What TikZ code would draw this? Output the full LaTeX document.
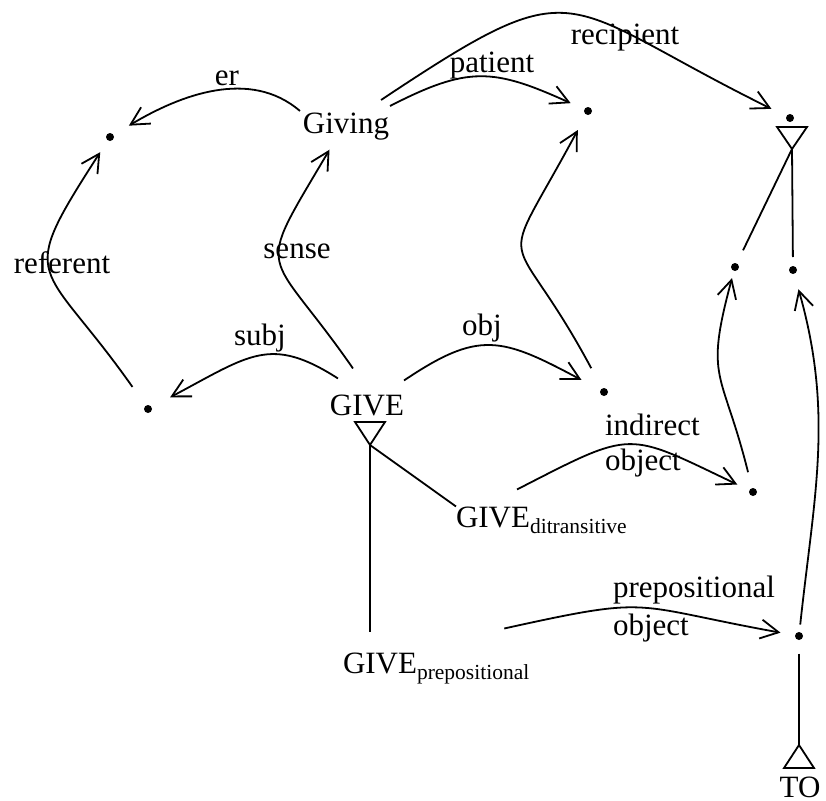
\documentclass[tikz,border=0pt]{standalone}
\usepackage{fontspec}
\setmainfont{Liberation Serif}
\usetikzlibrary{arrows.meta}
% lowered, smaller subscript tag for word-class names
\newcommand\lowtag[1]{\raisebox{-6pt}{\fontsize{21.5}{24}\selectfont #1}}

\begin{document}
\begin{tikzpicture}[x=1pt,y=1pt,
  every node/.style={inner sep=0pt, outer sep=0pt},
  txt/.style={font=\fontsize{31}{35}\selectfont},
  dot/.style={circle, fill=black, minimum size=8pt},
  link/.style={line width=1.8pt},
  arr/.style={link, -{Straight Barb[length=18pt,width=19pt]}},
]
\useasboundingbox (0,0) rectangle (826,-800);

% concept and word nodes
\node[txt, anchor=base] (giving) at (346,-133) {Giving};
\node[txt, anchor=base] (give) at (367,-415) {GIVE};
\node[txt, anchor=base west] (gdi) at (456,-527) {GIVE\lowtag{ditransitive}};
\node[txt, anchor=base west] (gpr) at (343,-673) {GIVE\lowtag{prepositional}};
\node[txt, anchor=base] (to) at (800,-797) {TO};

% unlabelled entity nodes
\node[dot] (dA) at (110,-137) {};
\node[dot] (dB) at (148,-409) {};
\node[dot] (dC) at (588,-111) {};
\node[dot] (dD) at (790,-118) {};
\node[dot] (dE) at (735,-267) {};
\node[dot] (dF) at (793,-270) {};
\node[dot] (dG) at (604,-392) {};
\node[dot] (dH) at (753,-492) {};
\node[dot] (dI) at (799,-636) {};

% isa triangles
\coordinate (giveIsa) at (370,-445);
\coordinate (dIsa) at (792,-149);
\coordinate (toIsa) at (799,-745);
\draw[link] (giveIsa) -- ++(-15,23) -- ++(30,0) -- cycle;
\draw[link] (dIsa) -- ++(-15,22) -- ++(30,0) -- cycle;
\draw[link] (toIsa) -- ++(-15,-23) -- ++(30,0) -- cycle;

% isa lines
\draw[link] (giveIsa) -- (gdi.north west);
\draw[link, shorten >=20pt] (giveIsa) -- (giveIsa |- gpr.north);
\draw[link, shorten >=14.5pt] (dIsa) -- (dE);
\draw[link, shorten >=9pt] (dIsa) -- (dF);
\draw[link, shorten <=13.5pt] (dI) -- (toIsa);

% labelled relations
\draw[arr, shorten >=18pt] ([shift={(-3,1.5)}]giving.north west)
  .. controls (250,-68) and (180,-95) .. (dA);
\draw[arr, shorten <=23pt, shorten >=14pt] (dB)
  .. controls (41,-257) and (14,-286) .. (dA);
\draw[arr] ([shift={(-14,26)}]give.north)
  .. controls (266,-243) and (252,-281) .. ([shift={(-16.5,-10)}]giving.south);
\draw[arr, shorten >=21pt] ([shift={(-29,16)}]give.north)
  .. controls (270,-335) and (250,-355) .. (dB);
\draw[arr, shorten >=15pt] ([shift={(1,6.5)}]giving.north east)
  .. controls (468,-66) and (493,-68) .. (dC);
\draw[arr, shorten >=16.7pt] ([shift={(-8,12.5)}]giving.north east)
  .. controls (584,35) and (555,-2) .. (dD);
\draw[arr, shorten >=21.5pt] ([shift={(0,14)}]give.north east)
  .. controls (479,-330) and (501,-337) .. (dG);
\draw[arr, shorten <=23pt, shorten >=17.6pt] (dG)
  .. controls (508,-213) and (494,-286) .. (dC);
\draw[arr, shorten >=13.4pt] ([shift={(61,17)}]gdi.north west)
  .. controls (635,-429) and (625,-431) .. (dH);
\draw[arr, shorten <=16.4pt, shorten >=7.5pt] (dH)
  .. controls (722,-368) and (704,-382) .. (dE);
\draw[arr, shorten <=7.5pt, shorten >=16pt] (dI)
  .. controls (814,-496) and (834,-414) .. (dF);
\draw[arr, shorten >=14.8pt] ([shift={(-25,24)}]gpr.north east)
  .. controls (656,-595) and (628,-605) .. (dI);

% relation labels
\node[txt, anchor=base] (lEr) at (227,-85) {er};
\node[txt, anchor=base] (lRef) at (62,-273) {referent};
\node[txt, anchor=base] (lSense) at (297,-258) {sense};
\node[txt, anchor=base] (lSubj) at (260,-345) {subj};
\node[txt, anchor=base] (lPat) at (492,-72) {patient};
\node[txt, anchor=base] (lRec) at (625,-45) {recipient};
\node[txt, anchor=base] (lObj) at (482,-335) {obj};
\node[font=\fontsize{31}{35}\selectfont, align=left, anchor=north west] (lInd) at (605,-414) {indirect\\object};
\node[font=\fontsize{31}{38}\selectfont, align=left, anchor=north west] (lPrep) at (613,-576) {prepositional\\object};
\end{tikzpicture}
\end{document}
